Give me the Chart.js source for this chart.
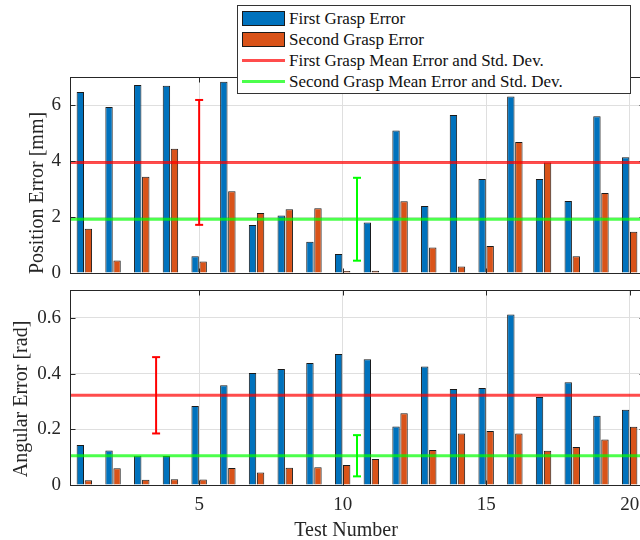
<!DOCTYPE html>
<html>
<head>
<meta charset="utf-8">
<script src="https://cdn.jsdelivr.net/npm/chart.js@4.4.1/dist/chart.umd.min.js"></script>
<style>
  body { margin: 0; background: #fff; }
  #wrap { position: relative; width: 640px; height: 540px; overflow: hidden; background: #fff;
          font-family: 'Liberation Serif', 'Times New Roman', serif; color: #262626; }
  canvas { position: absolute; left: 0; }
  .ytitle { position: absolute; font-size: 20px; line-height: 20px; white-space: nowrap;
            transform: translate(-50%, -50%) rotate(-90deg); }
  .xtitle { position: absolute; font-size: 20px; line-height: 20px; white-space: nowrap;
            transform: translate(-50%, -50%); }
  #legend { position: absolute; left: 237px; top: 5px; width: 394px; height: 89px; box-sizing: border-box;
            border: 1px solid #333; background: #fff; }
  .item { position: absolute; left: 4px; height: 20px; width: 380px; }
  .swatch { position: absolute; left: 0; top: 2px; width: 43px; height: 15px; box-sizing: border-box; border: 1px solid #1a1a1a; }
  .line { position: absolute; left: 0; top: 8px; width: 43px; height: 3px; }
  .label { position: absolute; left: 47px; top: 0; font-size: 17px; line-height: 20px; color: #111; white-space: nowrap; }
</style>
</head>
<body>
<div id="wrap">
  <canvas id="posChart" width="660" height="280" style="top:0"></canvas>
  <canvas id="angChart" width="660" height="240" style="top:280px"></canvas>
  <div class="ytitle" style="left:36px; top:193px">Position Error [mm]</div>
  <div class="ytitle" style="left:20px; top:399px">Angular Error [rad]</div>
  <div class="xtitle" style="left:346px; top:529px">Test Number</div>
  <div id="legend"></div>
</div>
<script>
// test numbers on the x axis
const testNumbers = [1, 2, 3, 4, 5, 6, 7, 8, 9, 10, 11, 12, 13, 14, 15, 16, 17, 18, 19, 20];
const xTickValues = [5, 10, 15, 20];

// position error [mm]
const firstPosError = [6.46, 5.93, 6.71, 6.69, 0.60, 6.83, 1.71, 2.05, 1.12, 0.68, 1.80, 5.09, 2.39, 5.64, 3.36, 6.30, 3.36, 2.57, 5.60, 4.13];
const secondPosError = [1.58, 0.45, 3.44, 4.44, 0.41, 2.92, 2.14, 2.28, 2.31, 0.07, 0.08, 2.56, 0.91, 0.23, 0.96, 4.68, 3.95, 0.60, 2.86, 1.47];
const posYTicks = [0, 2, 4, 6];
const posMeans = [3.95, 1.92];
const posStds = [2.23, 1.48];
const posErrX = [5, 10.5];

// angular error [rad]
const firstAngError = [0.144, 0.124, 0.105, 0.104, 0.284, 0.358, 0.402, 0.416, 0.438, 0.470, 0.451, 0.210, 0.425, 0.345, 0.348, 0.612, 0.316, 0.369, 0.249, 0.270];
const secondAngError = [0.017, 0.060, 0.019, 0.021, 0.020, 0.061, 0.045, 0.062, 0.064, 0.072, 0.093, 0.258, 0.126, 0.185, 0.194, 0.185, 0.123, 0.136, 0.163, 0.209];
const angYTicks = [0, 0.2, 0.4, 0.6];
const angMeans = [0.322, 0.105];
const angStds = [0.137, 0.074];
const angErrX = [3.5, 10.5];

const seriesNames = ['First Grasp Error', 'Second Grasp Error',
  'First Grasp Mean Error and Std. Dev.', 'Second Grasp Mean Error and Std. Dev.'];

const BLUE = '#0072BD';
const ORANGE = '#D95319';
const MEAN_COLORS = ['rgba(255,0,0,0.7)', 'rgba(0,255,0,0.7)'];
const ERR_COLORS = ['#ff0000', '#00ff00'];
const AXIS = '#262626';
const GRID = '#dfdfdf';
const X_MIN = 0.5, X_MAX = 20.5;

Chart.defaults.font.family = "'Liberation Serif', 'Times New Roman', serif";
Chart.defaults.color = AXIS;

// MATLAB-like box with inward ticks
const axesBox = {
  id: 'axesBox',
  afterDatasetsDraw(chart) {
    const { ctx, chartArea: a, scales } = chart;
    const L = Math.round(a.left) + 0.5, R = Math.round(a.right) + 0.5;
    const T = Math.round(a.top) + 0.5, B = Math.round(a.bottom) + 0.5;
    ctx.save();
    ctx.strokeStyle = AXIS;
    ctx.lineWidth = 1;
    ctx.strokeRect(L, T, R - L, B - T);
    ctx.beginPath();
    scales.x.ticks.forEach(t => {
      const px = Math.round(scales.x.getPixelForValue(t.value)) + 0.5;
      ctx.moveTo(px, B); ctx.lineTo(px, B - 5);
      ctx.moveTo(px, T); ctx.lineTo(px, T + 5);
    });
    scales.y.ticks.forEach(t => {
      const py = Math.round(scales.y.getPixelForValue(t.value)) + 0.5;
      ctx.moveTo(L, py); ctx.lineTo(L + 5, py);
      ctx.moveTo(R, py); ctx.lineTo(R - 5, py);
    });
    ctx.stroke();
    ctx.restore();
  }
};

function toPoints(values) {
  return values.map((v, i) => ({ x: testNumbers[i], y: v }));
}

function buildDatasets(first, second, means, stds, errX) {
  const sets = [
    { label: seriesNames[0], data: toPoints(first), backgroundColor: BLUE, borderColor: '#1a1a1a', borderWidth: 1, order: 2 },
    { label: seriesNames[1], data: toPoints(second), backgroundColor: ORANGE, borderColor: '#1a1a1a', borderWidth: 1, order: 2 }
  ];
  means.forEach((m, k) => {
    sets.push({
      type: 'line', label: seriesNames[2 + k],
      data: [{ x: X_MIN, y: m }, { x: X_MAX, y: m }],
      borderColor: MEAN_COLORS[k], borderWidth: 3, pointRadius: 0, fill: false, order: 1
    });
    sets.push({
      type: 'line', label: seriesNames[2 + k] + ' bar',
      data: [{ x: errX[k], y: m - stds[k] }, { x: errX[k], y: m + stds[k] }],
      borderColor: ERR_COLORS[k], borderWidth: 2,
      pointStyle: 'line', pointRadius: 4, pointBorderWidth: 2,
      pointBorderColor: ERR_COLORS[k], pointBackgroundColor: ERR_COLORS[k],
      fill: false, order: 0
    });
  });
  return sets;
}

function makeChart(id, first, second, means, stds, errX, yMax, yTicks, showXLabels, padTop, xHeight) {
  return new Chart(document.getElementById(id), {
    type: 'bar',
    data: { datasets: buildDatasets(first, second, means, stds, errX) },
    options: {
      responsive: false,
      animation: false,
      categoryPercentage: 0.56,
      barPercentage: 0.92,
      layout: { padding: { top: padTop, right: 16, left: 0, bottom: 0 } },
      plugins: { legend: { display: false }, tooltip: { enabled: false } },
      scales: {
        x: {
          type: 'linear', min: X_MIN, max: X_MAX, offset: false,
          grid: { color: GRID, offset: false, drawTicks: false },
          border: { display: false },
          ticks: { display: showXLabels, padding: 9, font: { size: 19 }, color: AXIS, maxRotation: 0,
                   callback: v => String(v) },
          afterBuildTicks: s => { s.ticks = xTickValues.map(v => ({ value: v })); },
          afterFit: s => { s.height = xHeight; s.paddingLeft = 0; s.paddingRight = 0; }
        },
        y: {
          min: 0, max: yMax,
          grid: { color: GRID, drawTicks: false },
          border: { display: false },
          ticks: { padding: 9, font: { size: 19 }, color: AXIS, callback: v => String(v) },
          afterBuildTicks: s => { s.ticks = yTicks.map(v => ({ value: v })); },
          afterFit: s => { s.width = 70; s.paddingTop = 0; s.paddingBottom = 0; }
        }
      }
    },
    plugins: [axesBox]
  });
}

makeChart('posChart', firstPosError, secondPosError, posMeans, posStds, posErrX, 7, posYTicks, false, 77, 7);
makeChart('angChart', firstAngError, secondAngError, angMeans, angStds, angErrX, 0.7, angYTicks, true, 10, 35);

// legend overlay
const legendEl = document.getElementById('legend');
const legendMarks = [
  { cls: 'swatch', color: BLUE },
  { cls: 'swatch', color: ORANGE },
  { cls: 'line', color: MEAN_COLORS[0] },
  { cls: 'line', color: MEAN_COLORS[1] }
];
const legendTops = [3, 24, 45, 66];
seriesNames.forEach((name, i) => {
  const item = document.createElement('div');
  item.className = 'item';
  item.style.top = legendTops[i] + 'px';
  const mark = document.createElement('div');
  mark.className = legendMarks[i].cls;
  mark.style.background = legendMarks[i].color;
  const label = document.createElement('div');
  label.className = 'label';
  label.textContent = name;
  item.appendChild(mark);
  item.appendChild(label);
  legendEl.appendChild(item);
});
</script>
</body>
</html>
